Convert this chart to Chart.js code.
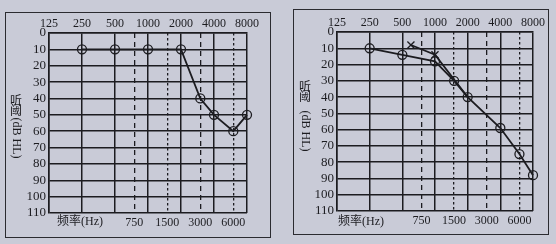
<!DOCTYPE html>
<html><head><meta charset="utf-8">
<script src="https://cdn.jsdelivr.net/npm/chart.js@4/dist/chart.umd.min.js"></script>
<style>
html,body{margin:0;padding:0;background:#c9cbd7;width:556px;height:244px;overflow:hidden;position:relative;}
.frame{position:absolute;border:1.5px solid #2b2b30;box-sizing:border-box;}
canvas{position:absolute;}
</style></head><body>
<div class="frame" style="left:5px;top:12px;width:266px;height:226px"></div>
<div class="frame" style="left:293px;top:9px;width:256px;height:226px"></div>
<canvas id="c1" style="left:5px;top:12px;width:266px;height:226px" width="266" height="226"></canvas>
<canvas id="c2" style="left:293px;top:9px;width:256px;height:226px" width="256" height="226"></canvas>
<script>
// ---- data ----
const topTicks = [125, 250, 500, 1000, 2000, 4000, 8000];
const longDashTicks = [750, 3000];
const shortDashTicks = [1500, 6000];
const bottomTicks = [750, 1500, 3000, 6000];
const dbTicks = [0, 10, 20, 30, 40, 50, 60, 70, 80, 90, 100, 110];

const leftFreq = [250, 500, 1000, 2000, 3000, 4000, 6000, 8000];
const leftDb   = [10, 10, 10, 10, 40, 50, 60, 50];

const rightFreqO = [250, 500, 1000, 1500, 2000, 4000, 6000, 8000];
const rightDbO   = [10, 14, 18, 30, 40, 59, 75, 88];

const rightFreqX = [600, 1000, 2000];
const rightDbX   = [8, 14, 40];

const yTitleCJK = ['听', '阈'];
const yTitleLatin = '(dB HL)';
const xTitle = '频率(Hz)';

const INK = '#1c1c20';
const SERIF = "'Liberation Serif','Noto Sans CJK SC',serif";

function pts(xs, ys) { return xs.map((x, i) => ({x: x, y: ys[i]})); }

function makeChart(id, geo, datasets) {
  const titlePlugin = {
    id: 'titles',
    afterDraw(chart) {
      const ctx = chart.ctx;
      ctx.save();
      ctx.fillStyle = INK;
      ctx.textAlign = 'center';
      ctx.textBaseline = 'middle';
      ctx.font = "12px 'Noto Sans CJK SC'";
      yTitleCJK.forEach((c, i) => ctx.fillText(c, geo.yt.x, geo.yt.y + i * 10));
      ctx.translate(geo.yt.x, geo.yt.ly);
      ctx.rotate(Math.PI / 2);
      ctx.font = "12px " + SERIF;
      ctx.fillText(yTitleLatin, 0, 0);
      ctx.restore();
      ctx.save();
      ctx.fillStyle = INK;
      ctx.textAlign = 'center';
      ctx.textBaseline = 'middle';
      ctx.font = "12px " + SERIF;
      ctx.fillText(xTitle, geo.xt.x, geo.xt.y);
      ctx.restore();
    }
  };
  const dashAxis = (ticks, dash) => ({
    type: 'logarithmic', position: 'bottom', min: 125, max: 8000,
    afterBuildTicks: s => { s.ticks = ticks.map(v => ({value: v})); },
    afterFit: s => { s.height = 0; },
    ticks: {display: false},
    grid: {color: INK, lineWidth: 1.3, drawTicks: false},
    border: {display: false, dash: dash}
  });
  return new Chart(document.getElementById(id), {
    type: 'line',
    data: {datasets: datasets},
    options: {
      responsive: false, animation: false,
      layout: {padding: {left: 0, right: geo.right, top: 0, bottom: 0}},
      plugins: {legend: {display: false}, tooltip: {enabled: false}},
      scales: {
        x: {
          type: 'logarithmic', position: 'top', min: 125, max: 8000,
          afterBuildTicks: s => { s.ticks = topTicks.map(v => ({value: v})); },
          afterFit: s => { s.height = geo.top; },
          ticks: {color: INK, font: {family: SERIF, size: 12}, padding: 2, maxRotation: 0, autoSkip: false,
                  callback: v => String(v)},
          grid: {color: INK, lineWidth: 1.5, drawTicks: false},
          border: {color: INK, width: 1.5}
        },
        xb: {
          type: 'logarithmic', position: 'bottom', min: 125, max: 8000,
          afterBuildTicks: s => { s.ticks = bottomTicks.map(v => ({value: v})); },
          afterFit: s => { s.height = geo.bottom; },
          ticks: {color: INK, font: {family: SERIF, size: 12}, padding: 3, maxRotation: 0, autoSkip: false,
                  callback: v => String(v)},
          grid: {display: false, drawTicks: false},
          border: {display: false}
        },
        xd1: dashAxis(longDashTicks, [5, 4]),
        xd2: dashAxis(shortDashTicks, [2.5, 2.5]),
        y: {
          type: 'linear', reverse: true, min: 0, max: 110,
          afterBuildTicks: s => { s.ticks = dbTicks.map(v => ({value: v})); },
          afterFit: s => { s.width = geo.left; },
          ticks: {color: INK, font: {family: SERIF, size: 13}, padding: 3, autoSkip: false},
          grid: {color: INK, lineWidth: 1.5, drawTicks: false},
          border: {color: INK, width: 1.5}
        }
      }
    },
    plugins: [titlePlugin]
  });
}

const circleDs = (data) => ({
  data: data, xAxisID: 'x', yAxisID: 'y', clip: false,
  borderColor: INK, borderWidth: 1.8, tension: 0,
  pointStyle: 'circle', pointRadius: 4.5, pointBorderWidth: 1.3,
  pointBorderColor: INK, pointBackgroundColor: 'rgba(0,0,0,0)'
});

makeChart('c1',
  {left: 44, right: 24, top: 21, bottom: 25,
   yt: {x: 11, y: 88, ly: 126}, xt: {x: 75, y: 210}},
  [circleDs(pts(leftFreq, leftDb))]);

makeChart('c2',
  {left: 44, right: 16, top: 23, bottom: 24,
   yt: {x: 12, y: 77, ly: 122}, xt: {x: 68, y: 213}},
  [circleDs(pts(rightFreqO, rightDbO)),
   {data: pts(rightFreqX, rightDbX), xAxisID: 'x', yAxisID: 'y', clip: false,
    borderColor: INK, borderWidth: 1.8, tension: 0,
    pointStyle: 'crossRot', pointRadius: [5, 5, 0], pointBorderWidth: 1.3,
    pointBorderColor: INK, pointBackgroundColor: 'rgba(0,0,0,0)'}]);
</script>
</body></html>
